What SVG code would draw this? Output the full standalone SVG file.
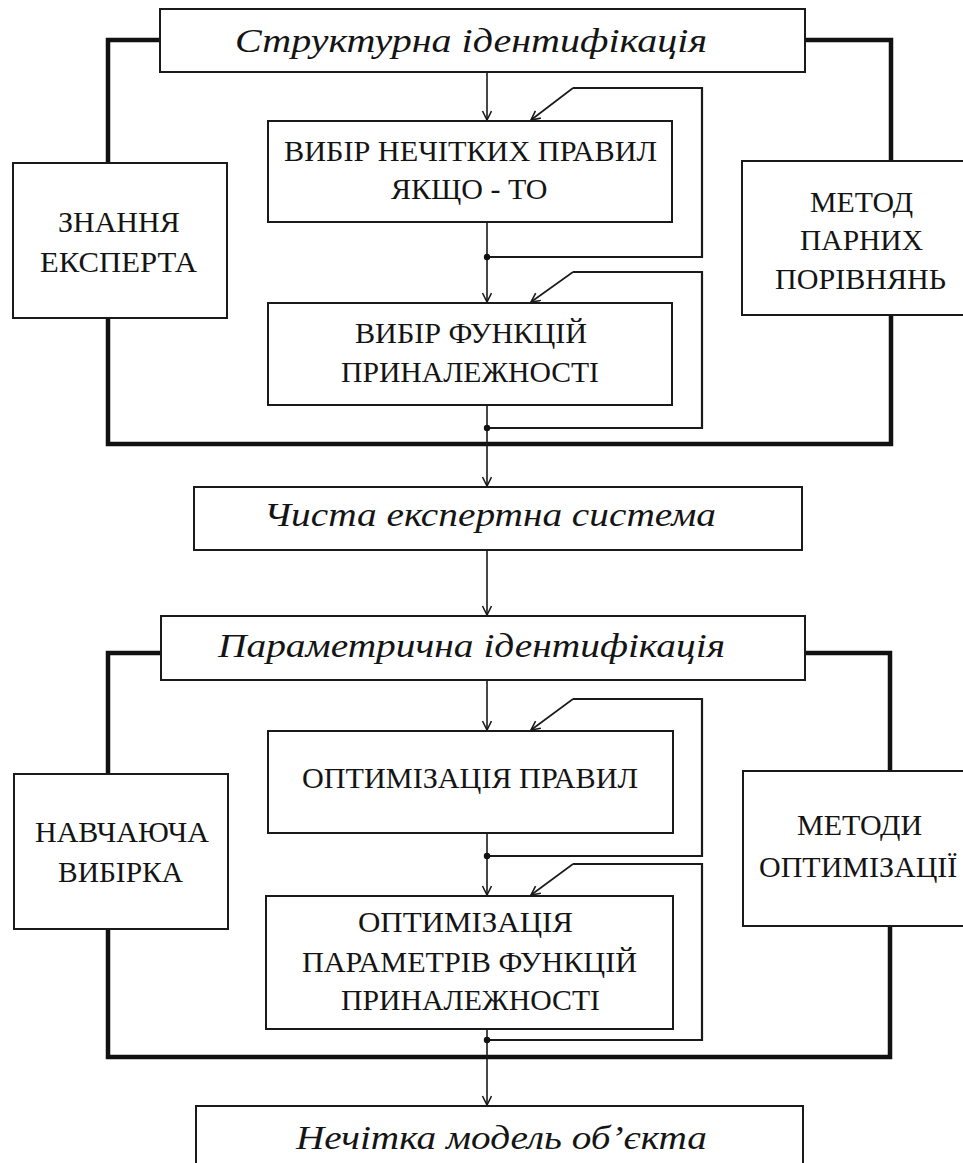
<svg xmlns="http://www.w3.org/2000/svg" width="963" height="1163" viewBox="0 0 963 1163">
  <style>
    .box { fill: #ffffff; stroke: #1a1a1a; stroke-width: 2; }
    .thick { fill: none; stroke: #111111; stroke-width: 4.5; stroke-linejoin: miter; }
    .thin { fill: none; stroke: #1a1a1a; stroke-width: 1.6; }
    .loop { fill: none; stroke: #1a1a1a; stroke-width: 2.2; }
    .dot { fill: #111111; }
    text { font-family: "Liberation Serif", "Times New Roman", serif; fill: #141414; }
    .up { font-size: 30px; }
    .it { font-style: italic; font-size: 34px; }
  </style>
  <defs>
    <marker id="arrow" markerUnits="userSpaceOnUse" markerWidth="12" markerHeight="12" refX="10" refY="5" orient="auto">
      <path d="M1,0.5 L10,5 L1,9.5" fill="none" stroke="#1a1a1a" stroke-width="1.6"/>
    </marker>
  </defs>

  <rect width="963" height="1163" fill="#ffffff"/>

  <!-- connectors -->
  <g id="connectors">
    <!-- structural identification frame -->
    <polyline class="thick" points="160,40 108,40 108,163"/>
    <polyline class="thick" points="805,40 891,40 891,161"/>
    <polyline class="thick" points="108,318 108,444 891,444 891,315"/>
    <!-- parametric identification frame -->
    <polyline class="thick" points="161,653 108,653 108,774"/>
    <polyline class="thick" points="805,653 890,653 890,771"/>
    <polyline class="thick" points="108,929 108,1057 890,1057 890,926"/>

    <!-- main vertical flow -->
    <line class="thin" x1="487" y1="72" x2="487" y2="120" marker-end="url(#arrow)"/>
    <line class="thin" x1="487" y1="222" x2="487" y2="302" marker-end="url(#arrow)"/>
    <line class="thin" x1="487" y1="405" x2="487" y2="486" marker-end="url(#arrow)"/>
    <line class="thin" x1="487" y1="550" x2="487" y2="615" marker-end="url(#arrow)"/>
    <line class="thin" x1="487" y1="680" x2="487" y2="730" marker-end="url(#arrow)"/>
    <line class="thin" x1="487" y1="833" x2="487" y2="895" marker-end="url(#arrow)"/>
    <line class="thin" x1="487" y1="1029" x2="487" y2="1105" marker-end="url(#arrow)"/>

    <!-- feedback loops -->
    <polyline class="loop" points="487,257 702,257 702,88 573,88"/>
    <line class="thin" x1="573" y1="88" x2="531" y2="120" marker-end="url(#arrow)"/>
    <polyline class="loop" points="487,428 702,428 702,272 573,272"/>
    <line class="thin" x1="573" y1="272" x2="531" y2="302" marker-end="url(#arrow)"/>
    <polyline class="loop" points="487,856 702,856 702,699 573,699"/>
    <line class="thin" x1="573" y1="699" x2="531" y2="730" marker-end="url(#arrow)"/>
    <polyline class="loop" points="487,1040 702,1040 702,864 573,864"/>
    <line class="thin" x1="573" y1="864" x2="531" y2="895" marker-end="url(#arrow)"/>

    <circle class="dot" cx="487" cy="257" r="3.2"/>
    <circle class="dot" cx="487" cy="428" r="3.2"/>
    <circle class="dot" cx="487" cy="856" r="3.2"/>
    <circle class="dot" cx="487" cy="1040" r="3.2"/>
  </g>

  <!-- nodes -->
  <g id="structural-identification">
    <rect class="box" x="160" y="9" width="645" height="63"/>
    <text class="it" x="235" y="52" textLength="472" lengthAdjust="spacingAndGlyphs">Структурна ідентифікація</text>
  </g>

  <g id="fuzzy-rules-choice">
    <rect class="box" x="268" y="121" width="404" height="101"/>
    <text class="up" x="284" y="161" textLength="373" lengthAdjust="spacingAndGlyphs">ВИБІР НЕЧІТКИХ ПРАВИЛ</text>
    <text class="up" x="391" y="199">ЯКЩО - ТО</text>
  </g>

  <g id="membership-choice">
    <rect class="box" x="268" y="303" width="404" height="102"/>
    <text class="up" x="355" y="343" textLength="232" lengthAdjust="spacingAndGlyphs">ВИБІР ФУНКЦІЙ</text>
    <text class="up" x="341" y="382" textLength="258" lengthAdjust="spacingAndGlyphs">ПРИНАЛЕЖНОСТІ</text>
  </g>

  <g id="expert-knowledge">
    <rect class="box" x="13" y="163" width="214" height="155"/>
    <text class="up" x="58" y="232">ЗНАННЯ</text>
    <text class="up" x="40" y="272" textLength="157" lengthAdjust="spacingAndGlyphs">ЕКСПЕРТА</text>
  </g>

  <g id="pairwise-method">
    <rect class="box" x="742" y="161" width="230" height="154"/>
    <text class="up" x="810" y="212" textLength="103" lengthAdjust="spacingAndGlyphs">МЕТОД</text>
    <text class="up" x="800" y="250" textLength="123" lengthAdjust="spacingAndGlyphs">ПАРНИХ</text>
    <text class="up" x="775" y="289" textLength="171" lengthAdjust="spacingAndGlyphs">ПОРІВНЯНЬ</text>
  </g>

  <g id="pure-expert-system">
    <rect class="box" x="194" y="487" width="608" height="63"/>
    <text class="it" x="264" y="526" textLength="452" lengthAdjust="spacingAndGlyphs">Чиста експертна система</text>
  </g>

  <g id="parametric-identification">
    <rect class="box" x="161" y="616" width="644" height="64"/>
    <text class="it" x="218" y="657" textLength="507" lengthAdjust="spacingAndGlyphs">Параметрична ідентифікація</text>
  </g>

  <g id="rules-optimization">
    <rect class="box" x="268" y="731" width="405" height="102"/>
    <text class="up" x="302" y="788" textLength="336" lengthAdjust="spacingAndGlyphs">ОПТИМІЗАЦІЯ ПРАВИЛ</text>
  </g>

  <g id="membership-optimization">
    <rect class="box" x="266" y="896" width="407" height="133"/>
    <text class="up" x="358" y="932" textLength="215" lengthAdjust="spacingAndGlyphs">ОПТИМІЗАЦІЯ</text>
    <text class="up" x="302" y="972" textLength="335" lengthAdjust="spacingAndGlyphs">ПАРАМЕТРІВ ФУНКЦІЙ</text>
    <text class="up" x="341" y="1010" textLength="259" lengthAdjust="spacingAndGlyphs">ПРИНАЛЕЖНОСТІ</text>
  </g>

  <g id="training-sample">
    <rect class="box" x="14" y="774" width="214" height="155"/>
    <text class="up" x="35" y="842">НАВЧАЮЧА</text>
    <text class="up" x="58" y="882" textLength="125" lengthAdjust="spacingAndGlyphs">ВИБІРКА</text>
  </g>

  <g id="optimization-methods">
    <rect class="box" x="743" y="771" width="229" height="155"/>
    <text class="up" x="797" y="835">МЕТОДИ</text>
    <text class="up" x="759" y="877">ОПТИМІЗАЦІЇ</text>
  </g>

  <g id="fuzzy-object-model">
    <rect class="box" x="196" y="1106" width="607" height="70"/>
    <text class="it" x="296" y="1149" textLength="411" lengthAdjust="spacingAndGlyphs">Нечітка модель об’єкта</text>
  </g>
</svg>
